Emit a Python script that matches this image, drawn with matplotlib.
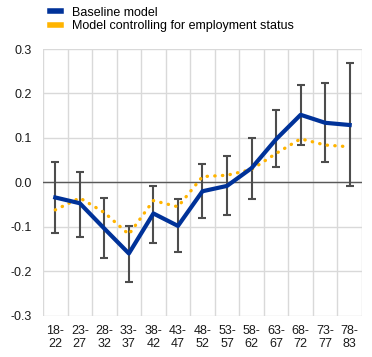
import numpy as np
import matplotlib.pyplot as plt

plt.rcParams['font.family'] = ['Liberation Sans', 'DejaVu Sans']

age_groups = ["18-\n22", "23-\n27", "28-\n32", "33-\n37", "38-\n42", "43-\n47", "48-\n52",
              "53-\n57", "58-\n62", "63-\n67", "68-\n72", "73-\n77", "78-\n83"]
baseline = [-0.034, -0.047, -0.104, -0.160, -0.070, -0.098, -0.020,
            -0.008, 0.032, 0.097, 0.152, 0.134, 0.129]
ci_upper = [0.046, 0.023, -0.035, -0.098, -0.008, -0.038, 0.041,
            0.059, 0.100, 0.163, 0.220, 0.224, 0.269]
ci_lower = [-0.115, -0.122, -0.170, -0.224, -0.136, -0.156, -0.080,
            -0.073, -0.037, 0.035, 0.085, 0.046, -0.008]
employment = [-0.062, -0.035, -0.068, -0.117, -0.041, -0.055, 0.013,
              0.016, 0.029, 0.065, 0.098, 0.084, 0.080]

blue = '#003299'
orange = '#FFB400'
grey = '#4d4d4d'

x = np.arange(len(age_groups))
base = np.array(baseline)
err = [base - np.array(ci_lower), np.array(ci_upper) - base]

fig = plt.figure(figsize=(3.72, 3.57), dpi=100)
ax = fig.add_axes([0.1156, 0.1157, 0.8574, 0.747])

ax.errorbar(x, base, yerr=err, fmt='none', ecolor=grey, elinewidth=1.5,
            capsize=3.2, capthick=1.5, zorder=3)
ax.plot(x, employment, color=orange, linewidth=2.4, linestyle=(0, (0.1, 2.2)),
        dash_capstyle='round', zorder=4, label='Model controlling for employment status')
ax.plot(x, baseline, color=blue, linewidth=3, zorder=5, label='Baseline model')
ax.axhline(0, color='#595959', linewidth=1, zorder=2)

ax.set_xlim(-0.5, len(age_groups) - 0.5)
ax.set_ylim(-0.3, 0.3)
ax.set_yticks(np.arange(-0.3, 0.31, 0.1))
ax.set_yticklabels(['-0.3', '-0.2', '-0.1', '0.0', '0.1', '0.2', '0.3'])
ax.set_xticks(x)
ax.set_xticklabels(age_groups, linespacing=1.1)
ax.set_xticks(np.arange(-0.5, len(age_groups), 1), minor=True)
ax.grid(True, which='minor', axis='x', color='#d9d9d9', linewidth=1)
ax.grid(True, which='major', axis='y', color='#d9d9d9', linewidth=1)
ax.tick_params(which='both', length=0, labelsize=9, colors='#1a1a1a')
ax.tick_params(axis='y', pad=8)
ax.tick_params(axis='x', pad=6.5)
for s in ax.spines.values():
    s.set_visible(False)

handles, labels = ax.get_legend_handles_labels()
leg = fig.legend(handles[::-1], labels[::-1], loc='upper left', bbox_to_anchor=(0.103, 1.013),
                 frameon=False, fontsize=9, handlelength=0.9, handletextpad=0.9,
                 labelspacing=0.15)
for h in leg.get_lines():
    h.set_linestyle('-')
    h.set_linewidth(4)

plt.savefig('out.png', dpi=100)
